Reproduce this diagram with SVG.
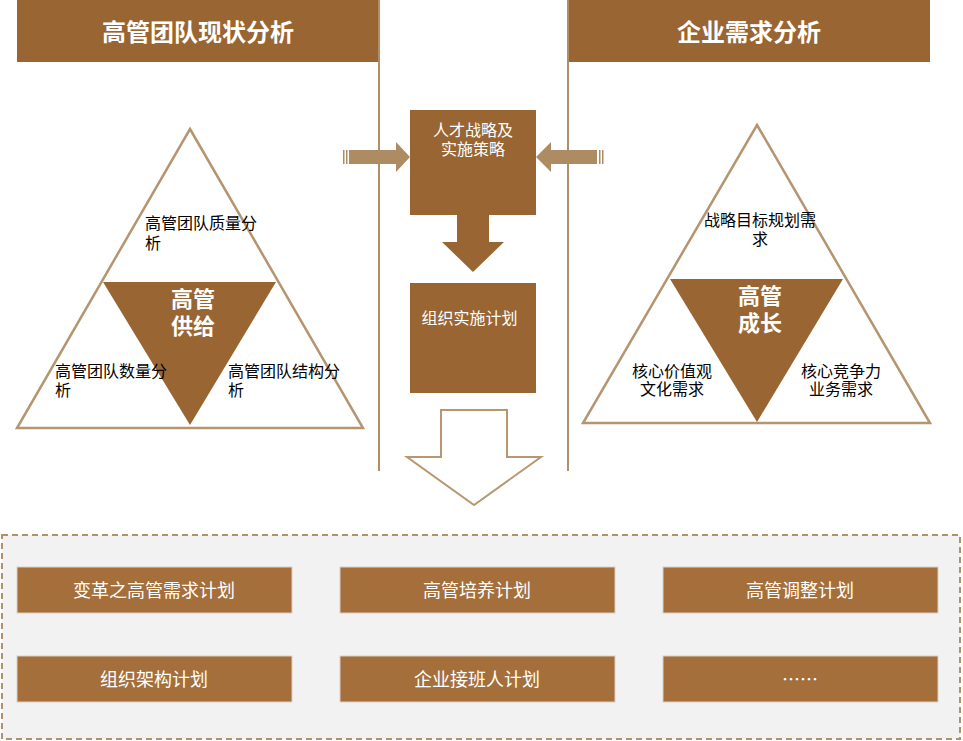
<svg xmlns="http://www.w3.org/2000/svg" width="963" height="741" viewBox="0 0 963 741">
<style>
.t{font-family:"Noto Sans CJK SC","Noto Sans",sans-serif;}
.hdr{fill:#996633;}
.hdrt{font-size:24px;font-weight:bold;fill:#fff;text-anchor:middle;}
.wt{font-size:16px;fill:#fff;}
.bt{font-size:16px;fill:#000;}
.big{font-size:22px;font-weight:bold;fill:#fff;text-anchor:middle;}
.tri{fill:#fff;stroke:#B59570;stroke-width:2.5;}
.inv{fill:#996633;}
.arr{fill:#AD8B63;}
.pb{fill:#A56F3B;stroke:#DCCFC4;stroke-width:1;}
.pt{font-size:18px;fill:#fff;text-anchor:middle;}
.vl{stroke:#B08F66;stroke-width:2;}
</style>
<rect width="963" height="741" fill="#fff"/>
<g id="connectors">
<line class="vl" x1="379" y1="0" x2="379" y2="471"/>
<line class="vl" x1="568" y1="0" x2="568" y2="471"/>
<g id="arrow-left-in">
<rect class="arr" x="343" y="150" width="1.5" height="14"/>
<rect class="arr" x="346" y="150" width="1.5" height="14"/>
<polygon class="arr" points="349,150 396,150 396,142 410,157 396,172 396,164 349,164"/>
</g>
<g id="arrow-right-in">
<rect class="arr" x="602" y="150" width="1.5" height="14"/>
<rect class="arr" x="599" y="150" width="1.5" height="14"/>
<polygon class="arr" points="597,150 551,150 551,142 536,157 551,172 551,164 597,164"/>
</g>
<polygon id="arrow-down" fill="#996633" points="457,215 489,215 489,242 504,242 473,272 442,242 457,242"/>
<polygon id="arrow-hollow" fill="#fff" stroke="#B8976E" stroke-width="2" points="441,410 507,410 507,457 541,457 474,505 407,457 441,457"/>
</g>
<g id="header-left">
<rect class="hdr" x="17" y="0" width="361" height="62"/>
<text class="t hdrt" x="198" y="41">高管团队现状分析</text>
</g>
<g id="header-right">
<rect class="hdr" x="569" y="0" width="361" height="62"/>
<text class="t hdrt" x="749" y="41">企业需求分析</text>
</g>
<g id="strategy">
<rect fill="#996633" x="410" y="110" width="126" height="105"/>
<text class="t wt" text-anchor="middle"><tspan x="473" y="136">人才战略及</tspan><tspan x="473" y="155">实施策略</tspan></text>
</g>
<g id="org-plan">
<rect fill="#996633" x="410" y="283" width="126" height="110"/>
<text class="t wt" x="469.5" y="324" text-anchor="middle">组织实施计划</text>
</g>
<g id="supply">
<polygon class="tri" points="190,129 363,428 17,428"/>
<polygon class="inv" points="103,282 276,282 190,425"/>
<text class="t bt"><tspan x="145" y="229">高管团队质量分</tspan><tspan x="145" y="249">析</tspan></text>
<text class="t big"><tspan x="193" y="307">高管</tspan><tspan x="193" y="334">供给</tspan></text>
<text class="t bt"><tspan x="55" y="377">高管团队数量分</tspan><tspan x="55" y="396">析</tspan></text>
<text class="t bt"><tspan x="228" y="377">高管团队结构分</tspan><tspan x="228" y="396">析</tspan></text>
</g>
<g id="growth">
<polygon class="tri" points="757,125 930,423 583,423"/>
<polygon class="inv" points="670,279 843,279 757,422"/>
<text class="t bt" text-anchor="middle"><tspan x="760" y="226">战略目标规划需</tspan><tspan x="760" y="245">求</tspan></text>
<text class="t big"><tspan x="760" y="304">高管</tspan><tspan x="760" y="331">成长</tspan></text>
<text class="t bt" text-anchor="middle"><tspan x="672" y="377">核心价值观</tspan><tspan x="672" y="395">文化需求</tspan></text>
<text class="t bt" text-anchor="middle"><tspan x="841" y="377">核心竞争力</tspan><tspan x="841" y="395">业务需求</tspan></text>
</g>
<g id="plans">
<rect x="2" y="535" width="958" height="204" fill="#F2F2F2" stroke="#B0916A" stroke-width="2" stroke-dasharray="6,4"/>
<g id="p1"><rect class="pb" x="17" y="567" width="275" height="46"/><text class="t pt" x="154" y="597">变革之高管需求计划</text></g>
<g id="p2"><rect class="pb" x="340" y="567" width="275" height="46"/><text class="t pt" x="477" y="597">高管培养计划</text></g>
<g id="p3"><rect class="pb" x="663" y="567" width="275" height="46"/><text class="t pt" x="800" y="597">高管调整计划</text></g>
<g id="p4"><rect class="pb" x="17" y="656" width="275" height="46"/><text class="t pt" x="154" y="686">组织架构计划</text></g>
<g id="p5"><rect class="pb" x="340" y="656" width="275" height="46"/><text class="t pt" x="477" y="686">企业接班人计划</text></g>
<g id="p6"><rect class="pb" x="663" y="656" width="275" height="46"/><text class="t pt" x="800" y="686">……</text></g>
</g>
</svg>
